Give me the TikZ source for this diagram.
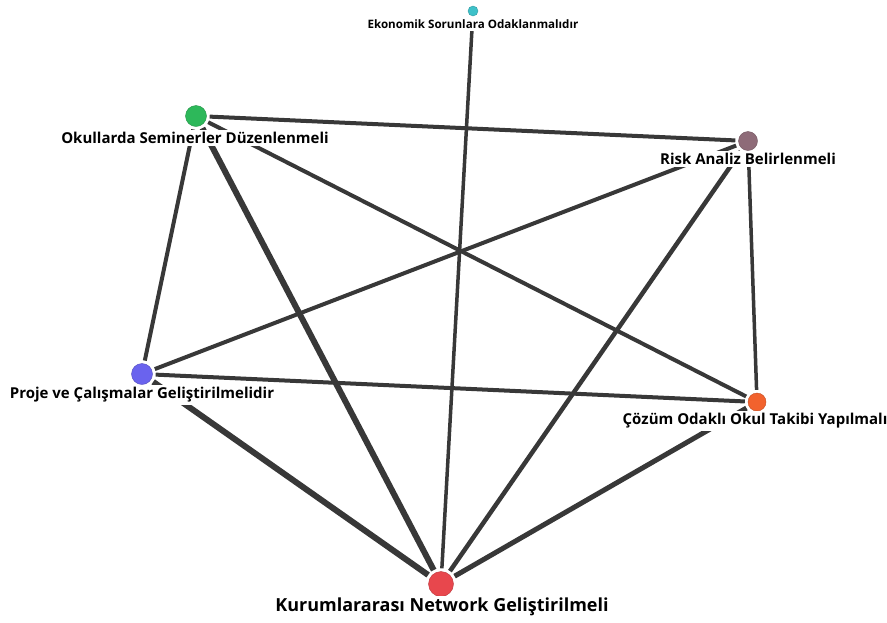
\documentclass[tikz,border=0pt]{standalone}
\usepackage{fontspec}
\setmainfont{Open Sans}
\definecolor{ceko}{HTML}{3EC1C9}
\definecolor{cokul}{HTML}{2DB85A}
\definecolor{crisk}{HTML}{8E6B78}
\definecolor{cproje}{HTML}{6A63EE}
\definecolor{ccozum}{HTML}{F2622D}
\definecolor{ckurum}{HTML}{E8474D}
\definecolor{edgegray}{HTML}{383838}
\begin{document}
\begin{tikzpicture}[x=1pt,y=-1pt,
  dot/.style={circle,inner sep=0pt,fill=#1,draw=#1!80!black,line width=0.4pt},
  lbl/.style={fill=white,inner sep=2.5pt,font=\bfseries\fontsize{15}{17}\selectfont},
  link/.style={draw=edgegray,line width=#1,shorten <=3pt,shorten >=3pt},
  link/.default=4pt]
\useasboundingbox (0,0) rectangle (887,622);

% circles
\node[dot=ceko,minimum size=10pt] (eko) at (473,11) {};
\node[dot=cokul,minimum size=21pt] (okul) at (196,116) {};
\node[dot=crisk,minimum size=19pt] (risk) at (748,141) {};
\node[dot=cproje,minimum size=21pt] (proje) at (142,374) {};
\node[dot=ccozum,minimum size=18pt] (cozum) at (757,402) {};
\node[dot=ckurum,minimum size=25pt] (kurum) at (441,584) {};

% connectors
\draw[link] (okul) -- (risk);
\draw[link] (okul) -- (proje);
\draw[link=6pt] (okul) -- (kurum);
\draw[link] (okul) -- (cozum);
\draw[link] (risk) -- (proje);
\draw[link=4.5pt] (risk) -- (kurum);
\draw[link=3.5pt] (risk) -- (cozum);
\draw[link=3.5pt] (eko) -- (kurum);
\draw[link] (proje) -- (cozum);
\draw[link=6pt] (proje) -- (kurum);
\draw[link=5pt] (cozum) -- (kurum);

% labels, drawn last so their white boxes hide the lines beneath
\node[lbl,font=\bfseries\fontsize{11.6}{13}\selectfont] (ekoL) at (473,24) {Ekonomik Sorunlara Odaklanmalıdır};
\node[lbl] (okulL) at (195,138) {Okullarda Seminerler Düzenlenmeli};
\node[lbl] (riskL) at (748,159) {Risk Analiz Belirlenmeli};
\node[lbl] (projeL) at (142,395) {Proje ve Çalışmalar Geliştirilmelidir};
\node[lbl] (cozumL) at (755,421) {Çözüm Odaklı Okul Takibi Yapılmalı};
\node[lbl,font=\bfseries\fontsize{18}{21}\selectfont] (kurumL) at (442,607) {Kurumlararası Network Geliştirilmeli};
\end{tikzpicture}
\end{document}
